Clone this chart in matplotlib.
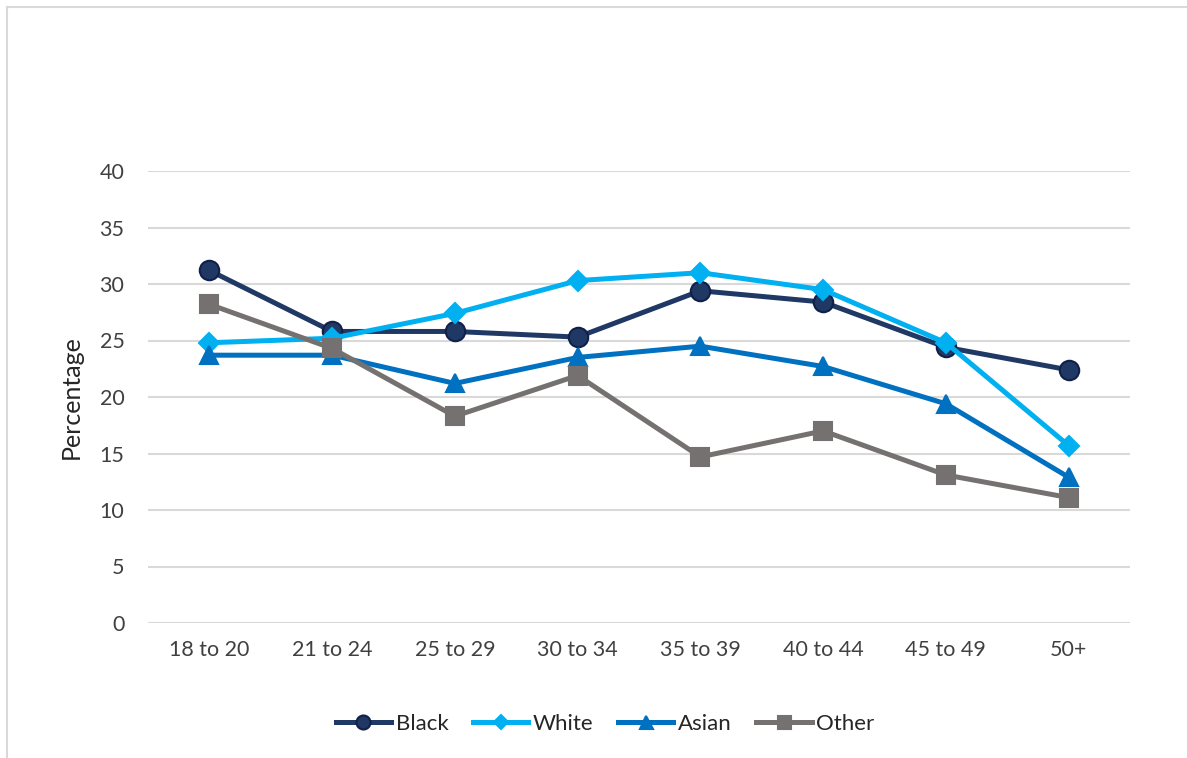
import matplotlib
matplotlib.use("Agg")
import matplotlib.pyplot as plt
from matplotlib.lines import Line2D

plt.rcParams["font.family"] = ["Lato", "DejaVu Sans"]

age_groups = ["18 to 20", "21 to 24", "25 to 29", "30 to 34",
              "35 to 39", "40 to 44", "45 to 49", "50+"]
black = [31.2, 25.8, 25.8, 25.3, 29.4, 28.4, 24.4, 22.4]
white = [24.8, 25.2, 27.4, 30.3, 31.0, 29.5, 24.8, 15.7]
asian = [23.7, 23.7, 21.2, 23.5, 24.5, 22.7, 19.4, 12.9]
other = [28.2, 24.3, 18.3, 21.9, 14.7, 17.0, 13.1, 11.1]

series = [
    ("Black", black, "#203864", "o", 14, "#10204a"),
    ("White", white, "#00B0F0", "D", 10, "#00B0F0"),
    ("Asian", asian, "#0070C0", "^", 13, "#0070C0"),
    ("Other", other, "#767171", "s", 13, "#767171"),
]

fig = plt.figure(figsize=(11.87, 7.58), dpi=100)
ax = fig.add_axes([148 / 1187, 135 / 758, 982 / 1187, 452 / 758])

x = range(len(age_groups))
for name, vals, color, marker, ms, edge in series:
    ax.plot(x, vals, color=color, lw=3.6, marker=marker, markersize=ms,
            markerfacecolor=color, markeredgecolor=edge, markeredgewidth=1.5,
            label=name, zorder=3)

ax.set_xlim(-0.5, len(age_groups) - 0.5)
ax.set_ylim(0, 40)
ax.set_yticks(range(0, 41, 5))
ax.set_xticks(list(x))
ax.set_xticklabels(age_groups)
ax.grid(axis="y", color="#D9D9D9", lw=1.5, zorder=0)
ax.set_axisbelow(True)
for s in ax.spines.values():
    s.set_visible(False)
ax.tick_params(length=0, labelsize=15.5, colors="#404040", pad=12)
ax.tick_params(axis="y", pad=17)
ax.set_ylabel("Percentage", fontsize=18, color="#262626", labelpad=12)

handles = [Line2D([0], [0], color=c, lw=3.6, marker=m, markersize=ms * 0.72,
                  markerfacecolor=c, markeredgecolor=e, markeredgewidth=1.5)
           for _, _, c, m, ms, e in series]
fig.legend(handles, [s[0] for s in series], loc="center",
           bbox_to_anchor=(605 / 1187, 1 - 724 / 758), ncol=4, frameon=False,
           fontsize=16, handlelength=2.5, handletextpad=0.2,
           columnspacing=1.1, labelcolor="#262626")

# chart frame (top and left edges visible)
fig.add_artist(Line2D([7 / 1187, 1], [1 - 7 / 758, 1 - 7 / 758],
                      color="#D9D9D9", lw=1.5, transform=fig.transFigure))
fig.add_artist(Line2D([7 / 1187, 7 / 1187], [0, 1 - 7 / 758],
                      color="#D9D9D9", lw=1.5, transform=fig.transFigure))

fig.savefig("out.png", dpi=100)
plt.close(fig)
